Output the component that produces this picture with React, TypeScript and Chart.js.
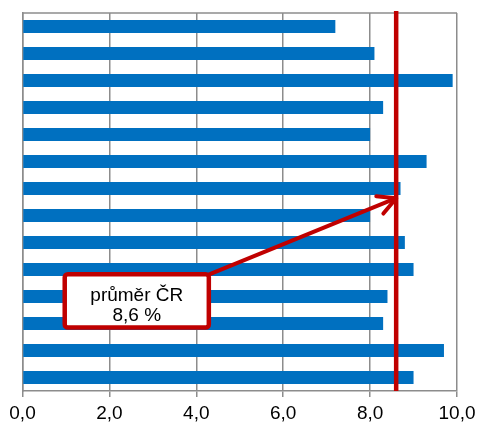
import React, { useEffect, useRef } from "react";
import { Chart, registerables } from "chart.js";

Chart.register(...registerables);

// ---- data ----
const categories = ["1", "2", "3", "4", "5", "6", "7", "8", "9", "10", "11", "12", "13", "14"];
const values = [7.2, 8.1, 9.9, 8.3, 8.0, 9.3, 8.7, 8.0, 8.8, 9.0, 8.4, 8.3, 9.7, 9.0];
const averageValue = 8.6;
const averageLabel = ["průměr ČR", "8,6 %"];
const xMin = 0;
const xMax = 10;
const xStep = 2;

// ---- callout placement (data units) ----
const calloutBox = { xFrom: 0.92, xTo: 4.34, yFrom: 9.09, yTo: 11.23 };
const arrowTipIndex = 6.36;

// ---- styles ----
const barColor = "#0070C0";
const redColor = "#C00000";
const gridColor = "#8c8c8c";
const fontFamily = '"Liberation Sans", Arial, sans-serif';

const overlayPlugin = {
  id: "overlay",
  afterDatasetsDraw(chart: any) {
    const { ctx, chartArea, scales } = chart;
    const xs = scales.x;
    const ys = scales.y;
    ctx.save();

    // top frame line
    ctx.strokeStyle = gridColor;
    ctx.lineWidth = 1.5;
    ctx.beginPath();
    ctx.moveTo(chartArea.left, chartArea.top);
    ctx.lineTo(chartArea.right, chartArea.top);
    ctx.stroke();

    // average line
    const ax = xs.getPixelForValue(averageValue);
    ctx.strokeStyle = redColor;
    ctx.lineWidth = 4.5;
    ctx.beginPath();
    ctx.moveTo(ax, chartArea.top - 2);
    ctx.lineTo(ax, chartArea.bottom);
    ctx.stroke();

    // callout box geometry
    const bx1 = xs.getPixelForValue(calloutBox.xFrom);
    const bx2 = xs.getPixelForValue(calloutBox.xTo);
    const by1 = ys.getPixelForValue(calloutBox.yFrom);
    const by2 = ys.getPixelForValue(calloutBox.yTo);

    // arrow
    const tipX = ax;
    const tipY = ys.getPixelForValue(arrowTipIndex);
    const sx = bx2 - 3;
    const sy = by1 + 3;
    ctx.strokeStyle = redColor;
    ctx.lineWidth = 4;
    ctx.lineCap = "round";
    ctx.lineJoin = "round";
    ctx.beginPath();
    ctx.moveTo(sx, sy);
    ctx.lineTo(tipX, tipY);
    ctx.stroke();
    const ang = Math.atan2(tipY - sy, tipX - sx);
    const armLen = 20;
    const spread = (28 * Math.PI) / 180;
    ctx.beginPath();
    ctx.moveTo(tipX - armLen * Math.cos(ang - spread), tipY - armLen * Math.sin(ang - spread));
    ctx.lineTo(tipX, tipY);
    ctx.lineTo(tipX - armLen * Math.cos(ang + spread), tipY - armLen * Math.sin(ang + spread));
    ctx.stroke();

    // box
    const lw = 4.5;
    ctx.lineWidth = lw;
    ctx.fillStyle = "#ffffff";
    ctx.strokeStyle = redColor;
    ctx.beginPath();
    const rx = bx1 + lw / 2;
    const ry = by1 + lw / 2;
    const rw = bx2 - bx1 - lw;
    const rh = by2 - by1 - lw;
    if ((ctx as any).roundRect) {
      (ctx as any).roundRect(rx, ry, rw, rh, 3);
    } else {
      ctx.rect(rx, ry, rw, rh);
    }
    ctx.fill();
    ctx.stroke();

    // text
    ctx.fillStyle = "#000000";
    ctx.font = `19px ${fontFamily}`;
    ctx.textAlign = "center";
    ctx.textBaseline = "middle";
    const cx = (bx1 + bx2) / 2;
    ctx.fillText(averageLabel[0], cx, by1 + 23.5);
    ctx.fillText(averageLabel[1], cx, by1 + 43.5);

    ctx.restore();
  },
};

export default function App() {
  const canvasRef = useRef<HTMLCanvasElement | null>(null);

  useEffect(() => {
    if (!canvasRef.current) return;
    const chart = new Chart(canvasRef.current, {
      type: "bar",
      data: {
        labels: categories,
        datasets: [
          {
            data: values,
            backgroundColor: barColor,
            borderWidth: 0,
            categoryPercentage: 1,
            barPercentage: 0.49,
          },
        ],
      },
      options: {
        indexAxis: "y",
        animation: false,
        responsive: false,
        maintainAspectRatio: false,
        layout: { padding: { left: 22.5, right: 22, top: 13, bottom: 0 } },
        plugins: {
          legend: { display: false },
          tooltip: { enabled: false },
        },
        scales: {
          x: {
            min: xMin,
            max: xMax,
            afterFit: (scale: any) => {
              scale.height = 34;
              scale.paddingLeft = 0;
              scale.paddingRight = 0;
            },
            ticks: {
              stepSize: xStep,
              color: "#000000",
              padding: 7,
              font: { family: fontFamily, size: 19, lineHeight: 1 },
              callback: (v: any) => Number(v).toFixed(1).replace(".", ","),
            },
            grid: {
              color: gridColor,
              lineWidth: 1.5,
              drawTicks: true,
              tickLength: 6,
            },
            border: { display: true, color: gridColor, width: 1.5 },
          },
          y: {
            afterFit: (scale: any) => {
              scale.width = 0;
              scale.paddingTop = 0;
              scale.paddingBottom = 0;
            },
            ticks: { display: false },
            grid: { display: false, drawTicks: false },
            border: { display: true, color: gridColor, width: 1.5 },
          },
        },
      },
      plugins: [overlayPlugin],
    });
    return () => chart.destroy();
  }, []);

  return (
    <div style={{ position: "absolute", left: 0, top: 0, width: 479, height: 425, background: "#fff" }}>
      <canvas ref={canvasRef} width={479} height={425} style={{ width: 479, height: 425, display: "block" }} />
    </div>
  );
}
